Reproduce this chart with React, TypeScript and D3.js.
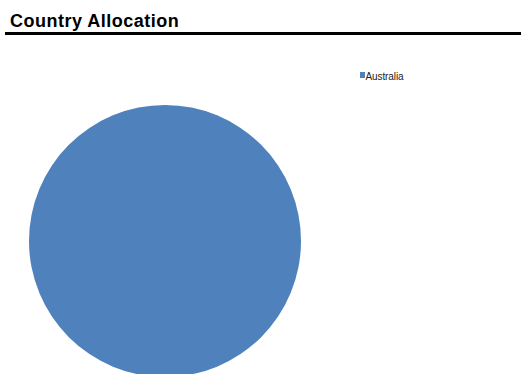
import React from "react";
import * as d3 from "d3";

const categories = ["Australia"];
const values = [100];
const colors = ["#4F81BD"];

export default function App() {
  const width = 521;
  const height = 374;
  const cx = 165;
  const cy = 241;
  const r = 136;
  const pie = d3.pie<number>().sort(null)(values);
  const arc = d3.arc<d3.PieArcDatum<number>>().innerRadius(0).outerRadius(r);
  return (
    <svg
      width={width}
      height={height}
      style={{ position: "absolute", left: 0, top: 0, display: "block" }}
      fontFamily="Liberation Sans, Arial, sans-serif"
    >
      <rect width={width} height={height} fill="#ffffff" />
      <text x={10} y={27} fontSize={18} fontWeight="bold" fill="#000" letterSpacing={0.5}>
        Country Allocation
      </text>
      <rect x={5} y={32} width={516} height={3} fill="#000" />
      <g transform={`translate(${cx},${cy})`}>
        {pie.map((d, i) => (
          <path key={i} d={arc(d) || ""} fill={colors[i]} />
        ))}
      </g>
      {categories.map((c, i) => (
        <g key={c} transform={`translate(360,${72 + i * 12})`}>
          <rect x={0} y={0} width={5} height={6} fill={colors[i]} />
          <text x={5.5} y={7.5} fontSize={10} fill="#222" letterSpacing={-0.1}>
            {c}
          </text>
        </g>
      ))}
    </svg>
  );
}
